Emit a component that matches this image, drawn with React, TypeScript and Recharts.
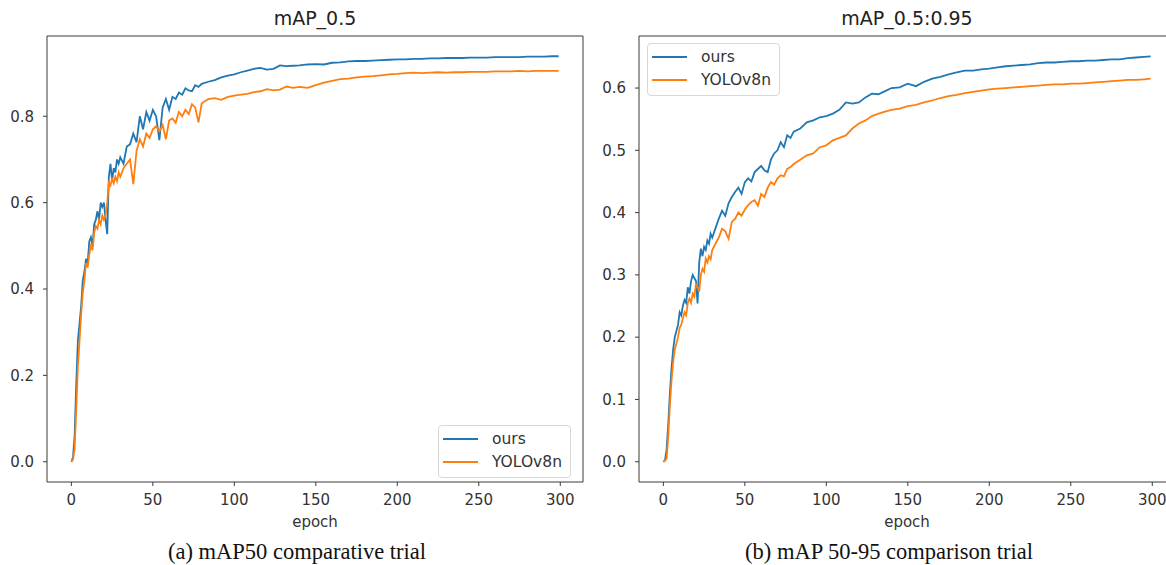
import React from 'react'
import { LineChart, Line, XAxis, YAxis, Legend, ReferenceLine } from 'recharts'

// epochs sampled from the training curves (dense early, sparse once the curves flatten)
const EPOCHS = [
  0, 1, 2, 3, 4, 5, 6, 7, 8, 9, 10,
  11, 12, 13, 14, 15, 16, 17, 18, 19, 20,
  21, 22, 23, 24, 25, 26, 27, 28, 29, 30,
  32, 34, 36, 38, 40, 42, 44, 46, 48, 50,
  52, 54, 56, 58, 60, 62, 64, 66, 68, 70,
  72, 74, 76, 78, 80,
  84, 88, 92, 96, 100, 104, 108, 112, 116, 120, 124, 128, 132, 136, 140,
  145, 150, 155, 160, 165, 170, 175, 180, 185, 190, 195, 200, 205, 210, 215,
  220, 225, 230, 235, 240, 245, 250, 255, 260, 265, 270, 275, 280, 285, 290, 295,
  299,
]

const OURS_MAP50 = [
  0, 0.01, 0.06, 0.18, 0.28, 0.32, 0.36, 0.42, 0.44, 0.47, 0.46,
  0.51, 0.52, 0.5, 0.55, 0.56, 0.58, 0.56, 0.6, 0.59, 0.6,
  0.56, 0.527, 0.66, 0.69, 0.65, 0.68, 0.67, 0.7, 0.69, 0.705,
  0.69, 0.73, 0.735, 0.76, 0.74, 0.8, 0.77, 0.81, 0.79, 0.815,
  0.8, 0.745, 0.82, 0.84, 0.815, 0.845, 0.84, 0.855, 0.85, 0.865,
  0.86, 0.858, 0.872, 0.868, 0.875,
  0.88, 0.884, 0.89, 0.894, 0.897, 0.902, 0.906, 0.91, 0.912, 0.908, 0.91, 0.918, 0.916, 0.917, 0.918,
  0.92, 0.921, 0.92, 0.924, 0.925, 0.927, 0.928, 0.928, 0.929, 0.93, 0.931, 0.932, 0.932, 0.933, 0.933,
  0.934, 0.934, 0.935, 0.935, 0.935, 0.936, 0.936, 0.936, 0.937, 0.937, 0.937, 0.937, 0.938, 0.938, 0.938, 0.939,
  0.939,
]

const YOLO_MAP50 = [
  0, 0.005, 0.03, 0.12, 0.22, 0.28, 0.34, 0.39, 0.42, 0.46, 0.45,
  0.48, 0.5, 0.49, 0.53, 0.546, 0.54, 0.56, 0.55, 0.57, 0.56,
  0.57, 0.6, 0.647, 0.64, 0.655, 0.645, 0.66, 0.65, 0.67, 0.66,
  0.68, 0.69, 0.7, 0.643, 0.72, 0.747, 0.73, 0.76, 0.75, 0.77,
  0.777, 0.765, 0.78, 0.747, 0.79, 0.795, 0.785, 0.81, 0.8, 0.815,
  0.805, 0.828, 0.82, 0.786, 0.83,
  0.84, 0.842, 0.838, 0.845, 0.848, 0.85, 0.852, 0.856, 0.858, 0.863, 0.86, 0.862, 0.869, 0.866, 0.868,
  0.866, 0.872, 0.878, 0.882, 0.886, 0.887, 0.89, 0.892, 0.893, 0.895, 0.897, 0.898, 0.9, 0.901, 0.9,
  0.901, 0.902, 0.901, 0.902, 0.902, 0.903, 0.903, 0.903, 0.904, 0.904, 0.904, 0.905, 0.904, 0.905, 0.905, 0.905,
  0.905,
]

const OURS_MAP5095 = [
  0, 0.002, 0.02, 0.06, 0.11, 0.15, 0.18, 0.2, 0.21, 0.22, 0.24,
  0.235, 0.251, 0.26, 0.255, 0.28, 0.27, 0.29, 0.3, 0.295, 0.29,
  0.254, 0.32, 0.342, 0.33, 0.345, 0.34, 0.355, 0.35, 0.366, 0.36,
  0.375, 0.39, 0.403, 0.395, 0.415, 0.425, 0.433, 0.44, 0.43, 0.449,
  0.455, 0.45, 0.465, 0.47, 0.475, 0.468, 0.465, 0.485, 0.495, 0.5,
  0.513, 0.505, 0.524, 0.52, 0.53,
  0.535, 0.545, 0.548, 0.553, 0.555, 0.559, 0.565, 0.577, 0.575, 0.577, 0.585, 0.591, 0.59, 0.595, 0.6,
  0.601, 0.607, 0.603, 0.61, 0.615, 0.618, 0.622, 0.625, 0.628, 0.628, 0.63, 0.631, 0.633, 0.635, 0.636,
  0.637, 0.638, 0.64, 0.641, 0.641, 0.642, 0.643, 0.643, 0.644, 0.644, 0.645, 0.646, 0.646, 0.648, 0.649, 0.65,
  0.651,
]

const YOLO_MAP5095 = [
  0, 0.002, 0.005, 0.04, 0.09, 0.13, 0.16, 0.18, 0.19, 0.2, 0.215,
  0.22, 0.23, 0.24, 0.235, 0.255, 0.262, 0.255, 0.27, 0.265, 0.285,
  0.28, 0.273, 0.3, 0.31, 0.305, 0.326, 0.32, 0.33, 0.325, 0.34,
  0.35, 0.36, 0.374, 0.37, 0.358, 0.385, 0.39, 0.4, 0.395, 0.405,
  0.412, 0.417, 0.42, 0.411, 0.43, 0.425, 0.44, 0.449, 0.445, 0.455,
  0.46, 0.458, 0.47, 0.473, 0.478,
  0.485, 0.492, 0.495, 0.505, 0.508, 0.516, 0.52, 0.524, 0.535, 0.543, 0.548, 0.555, 0.559, 0.562, 0.565,
  0.567, 0.571, 0.573, 0.577, 0.58, 0.584, 0.587, 0.589, 0.592, 0.594, 0.596, 0.598, 0.599, 0.6, 0.601,
  0.602, 0.603, 0.604, 0.605, 0.606, 0.606, 0.607, 0.607, 0.608, 0.609, 0.61, 0.611, 0.612, 0.613, 0.613, 0.614,
  0.615,
]

const EPOCH_TICKS = [0, 50, 100, 150, 200, 250, 300]
const MAP50_TICKS = [0, 0.2, 0.4, 0.6, 0.8]
const MAP5095_TICKS = [0, 0.1, 0.2, 0.3, 0.4, 0.5, 0.6]
const SERIES = ['ours', 'YOLOv8n']
const COLORS = ['#1f77b4', '#ff7f0e']

type Row = { epoch: number; ours: number; yolo: number }

const buildRows = (ours: number[], yolo: number[]): Row[] =>
  EPOCHS.map((epoch, i) => ({ epoch, ours: ours[i], yolo: yolo[i] }))

// matplotlib style 5% auto margins
const padded = (values: number[]): [number, number] => {
  const lo = Math.min(...values)
  const hi = Math.max(...values)
  const m = (hi - lo) * 0.05
  return [lo - m, hi + m]
}

const FONT = '"DejaVu Sans", sans-serif'
const AXIS = '#3a3a3a'
const TEXT = '#333'

const CHART_W = 600
const CHART_H = 520
const MARGIN = { top: 36, right: 17, bottom: 8, left: 0 }
const Y_AXIS_W = 47
const PLOT_W = CHART_W - MARGIN.right - Y_AXIS_W

const renderLegend = (props: any) => {
  const items = [...(props.payload || [])].sort(
    (a: any, b: any) => SERIES.indexOf(a.value) - SERIES.indexOf(b.value)
  )
  return (
    <div
      style={{
        display: 'inline-block',
        border: '1px solid #d8d8d8',
        borderRadius: 4,
        background: 'rgba(255,255,255,0.85)',
        padding: '2px 8px 4px 4px',
        fontFamily: FONT,
        fontSize: 15.5,
        color: TEXT,
      }}
    >
      {items.map((entry: any) => (
        <div key={entry.value} style={{ display: 'flex', alignItems: 'center', height: 22.5 }}>
          <span style={{ width: 35, height: 0, borderTop: `2px solid ${entry.color}`, marginRight: 14 }} />
          <span>{entry.value}</span>
        </div>
      ))}
    </div>
  )
}

interface PanelProps {
  left: number
  title: string
  caption: string
  rows: Row[]
  yTicks: number[]
  yDomain: [number, number]
  legendAt: { left: number; top: number }
}

const Panel: React.FC<PanelProps> = ({ left, title, caption, rows, yTicks, yDomain, legendAt }) => {
  const xDomain = padded(EPOCHS)
  const tick = { fill: TEXT, fontSize: 15, fontFamily: FONT }
  return (
    <div style={{ position: 'absolute', left, top: 0, width: CHART_W, height: 565 }}>
      <div
        style={{
          position: 'absolute', left: Y_AXIS_W, width: PLOT_W, top: 9, textAlign: 'center',
          fontFamily: FONT, fontSize: 19, lineHeight: '19px', color: '#222',
        }}
      >
        {title}
      </div>
      <LineChart width={CHART_W} height={CHART_H} data={rows} margin={MARGIN}>
        <XAxis
          dataKey="epoch"
          type="number"
          domain={xDomain}
          allowDataOverflow
          ticks={EPOCH_TICKS}
          interval={0}
          height={30}
          tickSize={4}
          tickMargin={8}
          tick={tick}
          stroke={AXIS}
        />
        <YAxis
          type="number"
          domain={yDomain}
          allowDataOverflow
          ticks={yTicks}
          interval={0}
          width={Y_AXIS_W}
          tickSize={4}
          tickMargin={9}
          tick={tick}
          tickFormatter={(v: number) => v.toFixed(1)}
          stroke={AXIS}
        />
        {/* top and right spines of the matplotlib frame */}
        <ReferenceLine y={yDomain[1]} stroke={AXIS} strokeWidth={1} ifOverflow="visible" />
        <ReferenceLine x={xDomain[1]} stroke={AXIS} strokeWidth={1} ifOverflow="visible" />
        <Legend
          layout="horizontal"
          align="center"
          verticalAlign="middle"
          wrapperStyle={{ left: legendAt.left, top: legendAt.top, width: 'auto', height: 'auto' }}
          content={renderLegend}
        />
        <Line
          dataKey="ours"
          name={SERIES[0]}
          stroke={COLORS[0]}
          strokeWidth={1.8}
          dot={false}
          type="linear"
          isAnimationActive={false}
        />
        <Line
          dataKey="yolo"
          name={SERIES[1]}
          stroke={COLORS[1]}
          strokeWidth={1.8}
          dot={false}
          type="linear"
          isAnimationActive={false}
        />
      </LineChart>
      <div
        style={{
          position: 'absolute', left: Y_AXIS_W, width: PLOT_W, top: 515, textAlign: 'center',
          fontFamily: FONT, fontSize: 15, lineHeight: '15px', color: TEXT,
        }}
      >
        epoch
      </div>
      <div
        style={{
          position: 'absolute', left: 0, width: 594, top: 541, textAlign: 'center',
          fontFamily: '"Liberation Serif", "Times New Roman", serif', fontSize: 22.5, lineHeight: '22px',
          color: '#111', whiteSpace: 'nowrap',
        }}
      >
        {caption}
      </div>
    </div>
  )
}

export default function App() {
  const rows50 = buildRows(OURS_MAP50, YOLO_MAP50)
  const rows5095 = buildRows(OURS_MAP5095, YOLO_MAP5095)
  return (
    <div
      style={{
        position: 'absolute', left: 0, top: 0, width: 1166, height: 565,
        overflow: 'hidden', background: '#fff',
      }}
    >
      <Panel
        left={0}
        title="mAP_0.5"
        caption="(a) mAP50 comparative trial"
        rows={rows50}
        yTicks={MAP50_TICKS}
        yDomain={padded([...OURS_MAP50, ...YOLO_MAP50])}
        legendAt={{ left: 438, top: 425 }}
      />
      <Panel
        left={592}
        title="mAP_0.5:0.95"
        caption="(b) mAP 50-95 comparison trial"
        rows={rows5095}
        yTicks={MAP5095_TICKS}
        yDomain={padded([...OURS_MAP5095, ...YOLO_MAP5095])}
        legendAt={{ left: 55, top: 43 }}
      />
    </div>
  )
}
